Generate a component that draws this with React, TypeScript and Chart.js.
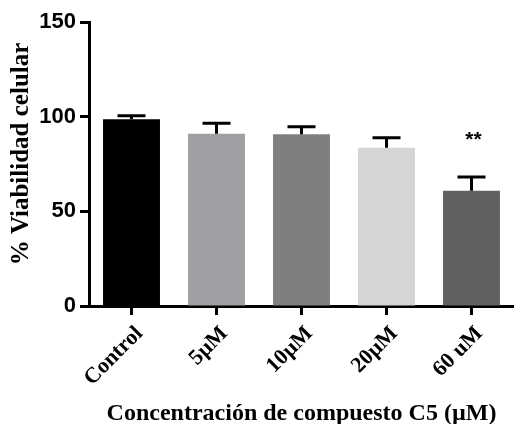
import { useEffect, useRef } from "react";
import { Chart, registerables } from "chart.js";

Chart.register(...registerables);

const categories = ["Control", "5µM", "10µM", "20µM", "60 uM"];
const means = [98.6, 91.0, 90.7, 83.6, 60.9];
const errors = [1.9, 5.5, 4.0, 5.3, 7.2];
const barColors = ["#000000", "#a0a0a4", "#7f7f7f", "#d5d5d5", "#616161"];
const significance = ["", "", "", "", "**"];
const yMin = 0;
const yMax = 150;
const yStep = 50;
const xTitle = "Concentración de compuesto C5 (µM)";
const yTitle = "% Viabilidad celular";

const SERIF = "'Liberation Serif', 'Times New Roman', serif";
const SANS = "'Liberation Sans', Arial, sans-serif";

const errorBarPlugin = {
  id: "errorBars",
  afterDatasetsDraw(chart: any) {
    const ctx = chart.ctx;
    const meta = chart.getDatasetMeta(0);
    const yScale = chart.scales.y;
    ctx.save();
    ctx.strokeStyle = "#000";
    ctx.lineWidth = 3;
    meta.data.forEach((bar: any, i: number) => {
      const x = bar.x;
      const yTop = yScale.getPixelForValue(means[i] + errors[i]);
      const yBase = yScale.getPixelForValue(means[i]);
      ctx.beginPath();
      ctx.moveTo(x, yBase);
      ctx.lineTo(x, yTop);
      ctx.moveTo(x - 14, yTop);
      ctx.lineTo(x + 14, yTop);
      ctx.stroke();
      if (significance[i]) {
        ctx.fillStyle = "#000";
        ctx.font = `bold 21px ${SANS}`;
        ctx.textAlign = "center";
        ctx.textBaseline = "alphabetic";
        ctx.fillText(significance[i], x + 2, yTop - 31);
      }
    });
    // y-axis title
    const area = chart.chartArea;
    ctx.save();
    ctx.translate(22, (area.top + area.bottom) / 2 - 10);
    ctx.rotate(-Math.PI / 2);
    ctx.fillStyle = "#000";
    ctx.font = `bold 25px ${SERIF}`;
    ctx.textAlign = "center";
    ctx.textBaseline = "middle";
    ctx.fillText(yTitle, 0, 0);
    ctx.restore();
    ctx.restore();
  },
};

export default function App() {
  const ref = useRef<HTMLCanvasElement | null>(null);
  useEffect(() => {
    if (!ref.current) return;
    const chart = new Chart(ref.current, {
      type: "bar",
      data: {
        labels: categories,
        datasets: [
          {
            data: means,
            backgroundColor: barColors,
            borderWidth: 0,
            barPercentage: 0.67,
            categoryPercentage: 1,
          },
        ],
      },
      options: {
        responsive: false,
        animation: false,
        layout: { padding: { top: 22, right: 0, left: 0, bottom: 0 } },
        plugins: { legend: { display: false }, tooltip: { enabled: false } },
        scales: {
          x: {
            grid: {
              display: true,
              drawOnChartArea: false,
              offset: false,
              tickLength: 9,
              tickWidth: 3,
              tickColor: "#000",
            },
            border: { color: "#000", width: 3 },
            ticks: {
              color: "#000",
              maxRotation: 45,
              minRotation: 45,
              padding: 6,
              labelOffset: 8,
              font: { family: SERIF, weight: "bold", size: 22 },
            },
            title: {
              display: true,
              text: xTitle,
              color: "#000",
              padding: { top: 0, bottom: -4 },
              font: { family: SERIF, weight: "bold", size: 24 },
            },
            afterFit: (s: any) => {
              s.height = 118;
            },
          },
          y: {
            min: yMin,
            max: yMax,
            grid: {
              display: true,
              drawOnChartArea: false,
              tickLength: 9,
              tickWidth: 3,
              tickColor: "#000",
            },
            border: { color: "#000", width: 3 },
            ticks: {
              stepSize: yStep,
              color: "#000",
              padding: 4,
              font: { family: SANS, weight: "bold", size: 22 },
            },
            afterFit: (s: any) => {
              s.width = 89;
            },
          },
        },
      },
      plugins: [errorBarPlugin],
    });
    return () => chart.destroy();
  }, []);
  return (
    <div style={{ position: "fixed", left: 0, top: 0, width: 514, height: 424, background: "#fff" }}>
      <canvas ref={ref} width={514} height={424} />
    </div>
  );
}
